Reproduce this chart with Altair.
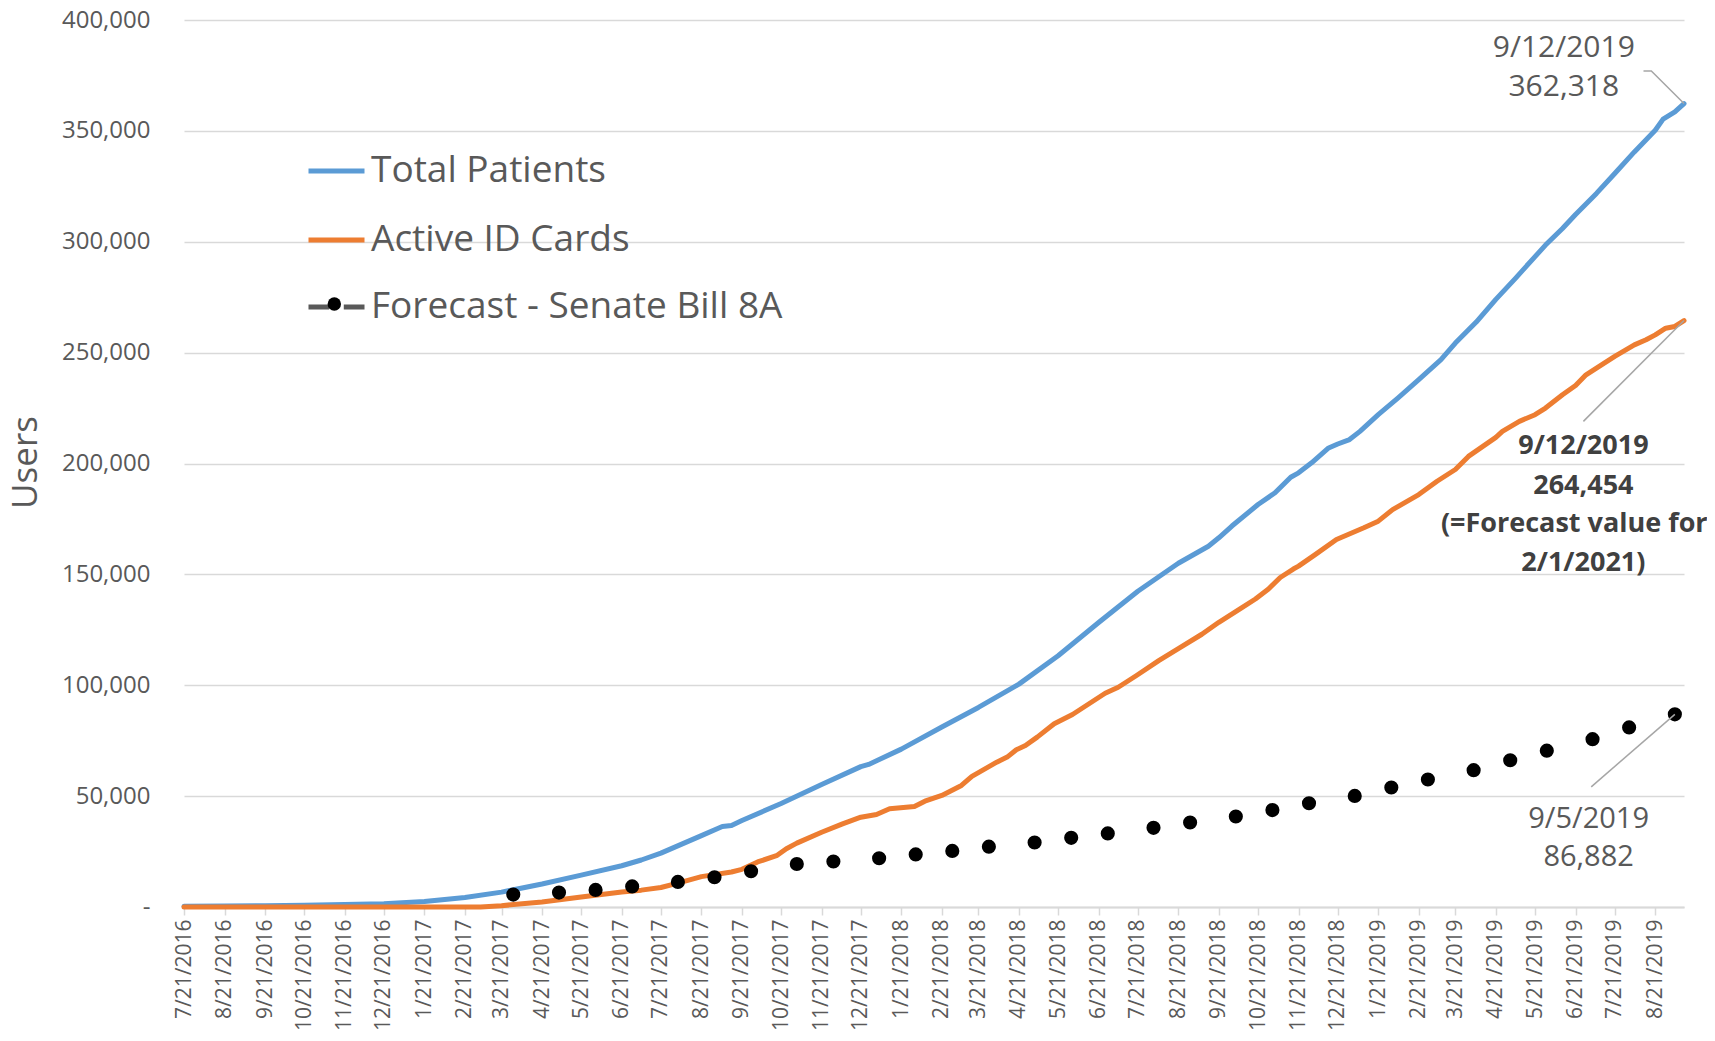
import altair as alt
import pandas as pd

# ---------------- data ----------------
total_dates = ["2016-07-21", "2016-08-21", "2016-09-21", "2016-10-21", "2016-11-21", "2016-12-21",
               "2017-01-21", "2017-02-21", "2017-03-21", "2017-04-21", "2017-05-21", "2017-06-21",
               "2017-07-06", "2017-07-21", "2017-08-21", "2017-09-06", "2017-09-13", "2017-09-21",
               "2017-10-21", "2017-11-21", "2017-12-21", "2017-12-27", "2018-01-21", "2018-02-21",
               "2018-03-21", "2018-04-21", "2018-05-21", "2018-06-21", "2018-07-21", "2018-08-21",
               "2018-09-13", "2018-09-21", "2018-10-01", "2018-10-21", "2018-11-03", "2018-11-15",
               "2018-11-21", "2018-12-01", "2018-12-14", "2018-12-21", "2018-12-30", "2019-01-07",
               "2019-01-21", "2019-02-05", "2019-02-21", "2019-03-10", "2019-03-21", "2019-04-06",
               "2019-04-21", "2019-05-06", "2019-05-21", "2019-05-29", "2019-06-11", "2019-06-21",
               "2019-07-07", "2019-07-21", "2019-08-05", "2019-08-21", "2019-08-27", "2019-09-05",
               "2019-09-12"]
total_values = [300, 400, 600, 800, 1100, 1500,
                2500, 4300, 6700, 10400, 14400, 18600,
                21200, 24300, 32200, 36300, 36800, 39000,
                46700, 55200, 63300, 64300, 71200, 81200,
                90000, 100500, 113300, 128300, 142400, 155000,
                162700, 166500, 171800, 181500, 186800, 193800,
                195800, 200300, 207000, 208800, 210800, 214500,
                222000, 229500, 237800, 246800, 254300, 263800,
                274000, 283500, 293300, 298500, 306000, 312300,
                321800, 330800, 340500, 350300, 355300, 358600,
                362318]

active_dates = ["2016-07-21", "2017-03-05", "2017-03-21", "2017-04-21", "2017-05-21", "2017-06-21",
                "2017-07-06", "2017-07-21", "2017-08-03", "2017-08-21", "2017-09-13", "2017-09-21",
                "2017-10-03", "2017-10-18", "2017-10-25", "2017-11-02", "2017-11-21", "2017-12-07",
                "2017-12-21", "2018-01-02", "2018-01-12", "2018-01-31", "2018-02-08", "2018-02-21",
                "2018-03-08", "2018-03-16", "2018-04-04", "2018-04-12", "2018-04-19", "2018-04-26",
                "2018-05-05", "2018-05-18", "2018-06-01", "2018-06-26", "2018-07-06", "2018-07-20",
                "2018-08-06", "2018-08-21", "2018-09-08", "2018-09-21", "2018-10-09", "2018-10-19",
                "2018-10-29", "2018-11-07", "2018-11-17", "2018-11-21", "2018-12-04", "2018-12-20",
                "2019-01-10", "2019-01-21", "2019-02-01", "2019-02-21", "2019-03-07", "2019-03-21",
                "2019-03-31", "2019-04-21", "2019-04-26", "2019-05-09", "2019-05-21", "2019-05-29",
                "2019-06-11", "2019-06-21", "2019-06-29", "2019-07-07", "2019-07-21", "2019-08-05",
                "2019-08-14", "2019-08-21", "2019-08-29", "2019-09-05", "2019-09-12"]
active_values = [0, 0, 600, 2300, 4500, 6800,
                 7600, 8800, 10800, 13700, 15800, 17000,
                 20300, 23300, 26300, 28800, 33700, 37500,
                 40500, 41700, 44300, 45300, 47700, 50300,
                 54800, 58900, 65300, 67600, 70900, 72800,
                 76600, 82600, 86800, 96400, 99100, 104400,
                 111100, 116500, 123000, 128400, 135100, 138900,
                 143400, 148600, 152400, 153700, 159000, 165700,
                 171000, 174000, 179200, 186000, 192000, 197300,
                 203200, 211800, 214500, 219000, 222000, 225000,
                 231000, 235200, 240000, 243000, 248300, 253500,
                 255800, 258000, 261000, 261800, 264454]

forecast_dates = ["2017-03-30", "2017-05-04", "2017-06-01", "2017-06-29", "2017-08-03", "2017-08-31",
                  "2017-09-28", "2017-11-02", "2017-11-30", "2018-01-04", "2018-02-01", "2018-03-01",
                  "2018-03-29", "2018-05-03", "2018-05-31", "2018-06-28", "2018-08-02", "2018-08-30",
                  "2018-10-04", "2018-11-01", "2018-11-29", "2019-01-03", "2019-01-31", "2019-02-28",
                  "2019-04-04", "2019-05-02", "2019-05-30", "2019-07-04", "2019-08-01", "2019-09-05"]
forecast_values = [5600, 6500, 7700, 9300, 11300, 13400,
                   16100, 19400, 20500, 22000, 23700, 25300,
                   27200, 29100, 31200, 33200, 35700, 38100,
                   40800, 43700, 46800, 50100, 53900, 57500,
                   61700, 66200, 70500, 75700, 81000, 86882]

series_names = ["Total Patients", "Active ID Cards"]
forecast_name = "Forecast - Senate Bill 8A"
forecast_marker = "marker"

# annotation texts (date, value, text)
blue_note_dates = ["2019-06-12", "2019-06-12"]
blue_note_values = [387200, 369600]
blue_note_texts = ["9/12/2019", "362,318"]

orange_note_dates = ["2019-06-27", "2019-06-27", "2019-06-20", "2019-06-27"]
orange_note_values = [207700, 190000, 172500, 155200]
orange_note_texts = ["9/12/2019", "264,454", "(=Forecast value for", "2/1/2021)"]

black_note_dates = ["2019-07-01", "2019-07-01"]
black_note_values = [39800, 22500]
black_note_texts = ["9/5/2019", "86,882"]

# leader lines (group, order, date, value)
leader_groups = ["b", "b", "b", "o", "o", "k", "k"]
leader_order = [0, 1, 2, 0, 1, 0, 1]
leader_dates = ["2019-08-12", "2019-08-18", "2019-09-12", "2019-06-27", "2019-09-12", "2019-07-03", "2019-09-05"]
leader_values = [377000, 377000, 362318, 219000, 264454, 54200, 86882]

# monthly tick dates (21st of each month)
tick_dates = []
yy, mm = 2016, 7
while (yy, mm) <= (2019, 8):
    tick_dates.append(f"{yy}-{mm:02d}-21")
    mm += 1
    if mm == 13:
        yy, mm = yy + 1, 1
y_ticks = list(range(0, 400001, 50000))


def ms(d):
    return int(pd.Timestamp(d, tz="UTC").value // 10**6)


tick_ms = [ms(d) for d in tick_dates]
x_domain = [ms("2016-07-21"), ms("2019-09-12")]

GRAY = "#595959"
GRID = "#d9d9d9"
FONT = "Open Sans"

# ---------------- tables ----------------
lines_df = pd.concat([
    pd.DataFrame({"date": total_dates, "value": total_values, "series": series_names[0]}),
    pd.DataFrame({"date": active_dates, "value": active_values, "series": series_names[1]}),
], ignore_index=True)
fc_df = pd.DataFrame({"date": forecast_dates, "value": forecast_values,
                      "s1": forecast_name, "s2": forecast_marker})
lead_df = pd.DataFrame({"grp": leader_groups, "ord": leader_order, "date": leader_dates, "value": leader_values})
blue_df = pd.DataFrame({"date": blue_note_dates, "value": blue_note_values, "label": blue_note_texts})
orange_df = pd.DataFrame({"date": orange_note_dates, "value": orange_note_values, "label": orange_note_texts})
black_df = pd.DataFrame({"date": black_note_dates, "value": black_note_values, "label": black_note_texts})

# ---------------- encodings ----------------
x_enc = alt.X(
    "date:T", title=None,
    scale=alt.Scale(type="utc", domain=x_domain, nice=False),
    axis=alt.Axis(values=tick_ms, labelExpr="utcFormat(datum.value, '%-m/%-d/%Y')",
                  labelAngle=270, labelAlign="right", labelBaseline="middle",
                  labelPadding=4, labelFontSize=21, labelColor=GRAY, labelOverlap=False,
                  labelFlush=False, tickSize=8, tickColor=GRID, tickWidth=1.5,
                  domainColor=GRID, domainWidth=2, grid=False),
)
y_enc = alt.Y(
    "value:Q", title="Users",
    scale=alt.Scale(domain=[0, 400000], nice=False),
    axis=alt.Axis(values=y_ticks,
                  labelExpr="datum.value == 0 ? '-\u00a0\u00a0' : format(datum.value, ',')",
                  domain=False, ticks=False, grid=True, gridColor=GRID, gridWidth=1.5,
                  labelPadding=34, labelFontSize=24, labelColor=GRAY, labelOverlap=False,
                  titleFontSize=35, titleColor=GRAY, titleFontWeight="normal",
                  titleAngle=270, titleX=-159, titleY=442, titleAlign="center",
                  titleBaseline="middle"),
)

legend_lines = alt.Legend(orient="none", legendX=122, legendY=120.5, direction="vertical",
                          title=None, symbolType="stroke", symbolStrokeWidth=5, symbolSize=3136,
                          labelFontSize=37, labelColor=GRAY, labelOffset=4, rowPadding=20,
                          labelLimit=800)
legend_fc_line = alt.Legend(orient="none", legendX=122, legendY=256.5, direction="vertical",
                            title=None, symbolType="M-1,0L-0.26,0M0.26,0L1,0",
                            symbolStrokeWidth=5, symbolSize=3136, symbolStrokeColor=GRAY,
                            symbolOpacity=1, labelFontSize=37, labelColor=GRAY, labelOffset=4,
                            labelLimit=800)
legend_fc_dot = alt.Legend(orient="none", legendX=143.3, legendY=277, direction="vertical",
                           title=None, symbolType="circle", symbolSize=180,
                           symbolFillColor="#000000", symbolStrokeWidth=0, symbolOpacity=1,
                           labelExpr="''", labelFontSize=1)

# ---------------- layers ----------------
lines = alt.Chart(lines_df).mark_line(strokeWidth=5, strokeJoin="round", strokeCap="round").encode(
    x=x_enc, y=y_enc,
    color=alt.Color("series:N", scale=alt.Scale(domain=series_names, range=["#5b9bd5", "#ed7d31"]),
                    legend=legend_lines),
)

fc_legend_layer = alt.Chart(fc_df).mark_point(opacity=0).encode(
    x=x_enc, y=y_enc,
    stroke=alt.Stroke("s1:N", scale=alt.Scale(domain=[forecast_name], range=[GRAY]),
                      legend=legend_fc_line),
)

dots = alt.Chart(fc_df).mark_circle(size=200, opacity=1).encode(
    x=x_enc, y=y_enc,
    fill=alt.Fill("s2:N", scale=alt.Scale(domain=[forecast_marker], range=["#000000"]),
                  legend=legend_fc_dot),
)

leaders = alt.Chart(lead_df).mark_line(color="#a6a6a6", strokeWidth=1.5).encode(
    x=x_enc, y=y_enc, detail="grp:N", order="ord:Q",
)

blue_txt = alt.Chart(blue_df).mark_text(fontSize=30, color=GRAY, align="center", baseline="middle").encode(
    x=x_enc, y=y_enc, text="label:N")
orange_txt = alt.Chart(orange_df).mark_text(fontSize=27, fontWeight="bold", color="#404040",
                                            align="center", baseline="middle").encode(
    x=x_enc, y=y_enc, text="label:N")
black_txt = alt.Chart(black_df).mark_text(fontSize=29, color=GRAY, align="center", baseline="middle").encode(
    x=x_enc, y=y_enc, text="label:N")

chart = alt.layer(lines, fc_legend_layer, dots, leaders, blue_txt, orange_txt, black_txt).properties(
    width=1500, height=887,
    autosize=alt.AutoSizeParams(type="none"),
    padding={"left": 176, "top": 12, "right": 23, "bottom": 126},
).configure(font=FONT).configure_view(stroke=None)

chart.save("out.html", embed_options={"renderer": "svg", "actions": False})
